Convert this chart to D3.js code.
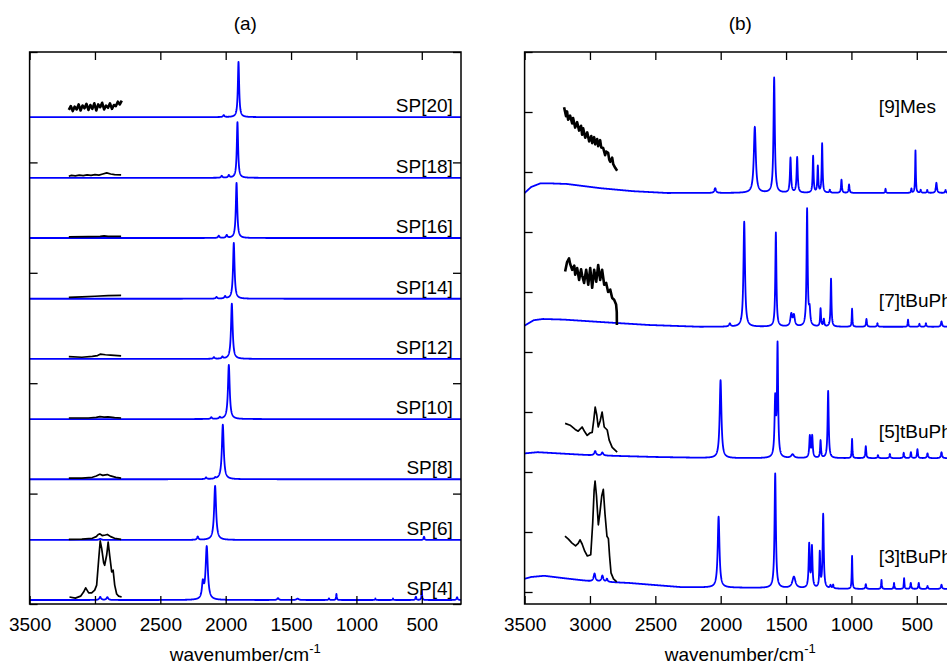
<!DOCTYPE html>
<html>
<head>
<meta charset="utf-8">
<script src="https://cdn.jsdelivr.net/npm/d3@7"></script>
<style>
  body { margin: 0; background: #fff; }
  svg { display: block; font-family: "Liberation Sans", Arial, Helvetica, sans-serif; }
</style>
</head>
<body>
<div id="chart"></div>
<script>
// ---- data ----
let wnTicks = [3500, 3000, 2500, 2000, 1500, 1000, 500];

// panel (a): SP[4] ... SP[20]
let namesA = ["SP[4]", "SP[6]", "SP[8]", "SP[10]", "SP[12]", "SP[14]", "SP[16]", "SP[18]", "SP[20]"];
let offsetsA = [0.72, 11.6, 22.6, 33.5, 44.4, 55.3, 66.3, 77.2, 88.2];
// peaks: [wavenumber, height, fwhm]
let peaksA = [
  [[2145, 9.6, 20], [2175, 2.8, 16], [1600, 0.35, 14], [1450, 0.25, 20], [1210, 0.3, 8], [1153, 1.1, 6],
   [855, 0.3, 6], [720, 0.3, 6], [545, 0.6, 8], [500, 1.8, 6], [230, 0.5, 10], [2960, 0.55, 16], [2905, 0.5, 16]],
  [[2081, 9.8, 18], [2214, 0.6, 12], [483, 0.6, 8], [2960, 0.2, 20]],
  [[2022, 9.9, 17], [2150, 0.3, 12], [2080, 0.2, 10]],
  [[1976, 9.8, 16], [2110, 0.3, 12], [2045, 0.3, 12]],
  [[1953, 10, 15], [2090, 0.3, 12], [2025, 0.35, 12]],
  [[1938, 10.1, 14], [2070, 0.3, 12], [2005, 0.4, 12]],
  [[1917, 10, 13], [2053, 0.4, 12], [1992, 0.5, 12]],
  [[1910, 10.1, 12], [2030, 0.35, 12], [1976, 0.45, 12]],
  [[1902, 10, 12], [2015, 0.35, 12]]
];
// magnified C-H region (black), height above the baseline
let chA = [
  [[3195, 0.55], [3150, 0.35], [3110, 0.7], [3087, 1.45], [3071, 2.2], [3048, 1.3], [3025, 1.3], [3002, 1.8],
   [2987, 2.7], [2972, 7.2], [2960, 10.7], [2949, 9.4], [2933, 6.7], [2926, 6.3], [2910, 8.2], [2899, 10.5],
   [2887, 8.0], [2872, 5.1], [2861, 5.4], [2849, 2.7], [2834, 1.1], [2819, 0.7], [2796, 0.55]],
  [[3200, 0.1], [3100, 0.15], [3020, 0.3], [2990, 0.6], [2975, 1.0], [2962, 1.1], [2945, 0.8], [2920, 0.9],
   [2905, 1.0], [2880, 0.6], [2850, 0.3], [2800, 0.1]],
  [[3200, 0.2], [3100, 0.2], [3020, 0.35], [2990, 0.6], [2962, 0.9], [2940, 0.7], [2920, 0.8], [2905, 0.85],
   [2880, 0.6], [2840, 0.35], [2800, 0.2]],
  [[3200, 0.2], [3050, 0.2], [2990, 0.3], [2962, 0.45], [2930, 0.35], [2900, 0.4], [2850, 0.25], [2800, 0.2]],
  [[3200, 0.4], [3100, 0.3], [3020, 0.45], [2980, 0.6], [2960, 0.85], [2920, 0.75], [2880, 0.7], [2800, 0.55]],
  [[3200, 0.25], [3100, 0.35], [3000, 0.45], [2900, 0.55], [2800, 0.6]],
  [[3200, 0.2], [3050, 0.25], [2960, 0.3], [2930, 0.4], [2900, 0.3], [2800, 0.3]],
  [[3200, 0.3], [3180, 0.45], [3150, 0.35], [3120, 0.5], [3090, 0.4], [3060, 0.55], [3030, 0.45], [3000, 0.6],
   [2970, 0.5], [2940, 0.7], [2910, 0.9], [2880, 0.7], [2850, 0.6], [2800, 0.55]],
  [[3200, 1.3], [3185, 2.0], [3170, 1.1], [3155, 1.9], [3140, 1.4], [3125, 2.3], [3110, 1.2], [3095, 2.1],
   [3080, 1.6], [3065, 2.4], [3050, 1.3], [3035, 2.2], [3020, 1.5], [3005, 2.5], [2990, 1.2], [2975, 2.3],
   [2960, 1.8], [2945, 2.6], [2930, 1.4], [2915, 2.1], [2900, 1.7], [2885, 2.5], [2870, 1.5], [2855, 2.2],
   [2840, 2.0], [2825, 2.8], [2810, 2.3], [2795, 3.0]]
];

// panel (b)
let namesB = ["[3]tBuPh", "[5]tBuPh", "[7]tBuPh", "[9]Mes"];
let offsetsB = [0.5, 22.3, 44.2, 66.5];
let baseB = [
  [[3500, 1.7], [3450, 2.0], [3350, 2.2], [3200, 1.8], [3000, 1.3], [2700, 1.0], [2300, 0.3], [1800, 0.2], [1000, 0], [200, 0]],
  [[3500, 0.8], [3400, 1.0], [3000, 0.5], [2500, 0.2], [2000, 0], [200, 0]],
  [[3500, 0.2], [3430, 1.1], [3360, 1.3], [3200, 1.2], [2920, 0.8], [2550, 0.3], [2160, 0], [200, 0]],
  [[3500, 0], [3450, 1.0], [3380, 1.6], [3300, 1.6], [3175, 1.5], [2920, 0.8], [2670, 0.3], [2410, 0], [200, 0]]
];
let peaksB = [
  [[2016, 11.8, 16], [1583, 19.1, 12], [1440, 1.9, 28], [1323, 7.2, 10], [1302, 6.8, 10], [1242, 5.8, 8],
   [1216, 12.3, 10], [1160, 0.5, 10], [1140, 0.6, 8], [995, 5.5, 6], [890, 0.8, 8], [770, 1.5, 6], [674, 1, 6],
   [597, 1.8, 6], [546, 1, 8], [485, 1, 8], [418, 0.5, 8], [311, 0.7, 10], [2965, 1.3, 16], [2905, 1.0, 16],
   [2870, 0.5, 12]],
  [[2001, 13, 16], [1583, 9.5, 12], [1565, 18.5, 10], [1450, 0.6, 25], [1318, 3.6, 10], [1300, 3.6, 10],
   [1236, 2.9, 8], [1178, 11.2, 10], [995, 3.2, 6], [890, 2, 8], [797, 0.5, 8], [706, 0.7, 8], [600, 0.9, 8],
   [545, 1.0, 8], [495, 1.5, 8], [418, 0.8, 10], [311, 1, 10], [2960, 0.7, 16], [2905, 0.5, 16]],
  [[1930, 0.5, 14], [1820, 17.5, 14], [1578, 15.7, 10], [1460, 2.0, 16], [1440, 1.8, 16], [1339, 19.5, 10],
   [1320, 2.5, 12], [1236, 3, 8], [1211, 1.2, 8], [1156, 8, 8], [995, 3, 6], [885, 1.3, 8], [801, 0.6, 8],
   [567, 1.2, 6], [480, 0.5, 8], [430, 0.6, 8], [311, 0.9, 10]],
  [[2042, 0.8, 14], [1739, 11, 18], [1591, 19.2, 12], [1466, 5.8, 10], [1415, 5.9, 10], [1293, 6.1, 8],
   [1257, 4.4, 8], [1224, 8.2, 8], [1165, 0.5, 8], [1076, 2.2, 8], [1018, 1.4, 8], [739, 0.7, 6], [541, 0.7, 6],
   [510, 7.1, 6], [470, 0.5, 8], [420, 0.5, 8], [350, 1.7, 10], [280, 0.5, 8]]
];
let chB = [
  [[3191, 8.8], [3165, 8.3], [3139, 7.7], [3110, 7.2], [3090, 7.6], [3076, 8.2], [3060, 7.5], [3040, 6.3],
   [3020, 5.5], [2994, 5.7], [2979, 11], [2968, 16.5], [2961, 18], [2950, 15.5], [2936, 10.7], [2925, 12.5],
   [2910, 15.5], [2898, 16.6], [2885, 12.5], [2870, 8.8], [2859, 8.4], [2850, 5.5], [2839, 2.7], [2820, 1.7], [2795, 1.2]],
  [[3190, 5.8], [3152, 5.5], [3113, 4.8], [3090, 4.5], [3060, 5.2], [3040, 4.4], [3021, 3.8], [3000, 4.2],
   [2983, 4.3], [2970, 6.5], [2960, 8.5], [2948, 7.2], [2937, 5.2], [2922, 6.2], [2907, 7.7], [2891, 5.2],
   [2868, 4.7], [2853, 3], [2830, 1.8], [2792, 1]],
  [[3190, 9.2], [3175, 10.8], [3160, 11.4], [3152, 10.5], [3136, 9.5], [3120, 10.2], [3113, 8.7], [3098, 9.8],
   [3083, 7.8], [3068, 9.6], [3060, 8.6], [3045, 7.3], [3029, 9.5], [3013, 7], [2998, 9.8], [2983, 6.5],
   [2968, 9.5], [2952, 7.5], [2937, 10.3], [2922, 7.8], [2907, 9.5], [2891, 7], [2876, 7.3], [2861, 5.8],
   [2845, 6.2], [2830, 4.8], [2815, 4.5], [2800, 3.7], [2795, 2.5], [2794, 0.3]],
  [[3198, 14.3], [3183, 12.8], [3175, 13.6], [3167, 12.2], [3152, 12.9], [3136, 11.6], [3129, 12.5], [3113, 10.9],
   [3098, 11.8], [3083, 10.4], [3068, 11.2], [3060, 9.7], [3052, 10.8], [3036, 9.2], [3021, 10.1], [3006, 8.6],
   [2990, 9.5], [2983, 8.3], [2968, 9.3], [2960, 8.1], [2945, 9], [2937, 7.8], [2922, 8.8], [2914, 7.6],
   [2899, 7.5], [2884, 6.3], [2876, 6.9], [2861, 6.7], [2853, 5.6], [2845, 5.2], [2830, 5.9], [2822, 4.8],
   [2807, 4.2], [2792, 3.7]]
];

// label placement (kept apart from the values)
let labelPosA = {wn: 262, dy: 0.9, anchor: "end"};
let labelPosB = {wn: 790, y: [4.8, 25.7, 47.5, 79.8], anchor: "start"};
// the noisiest black traces are drawn heavier, as in the figure
let thickA = ["SP[20]"];
let thickB = ["[9]Mes", "[7]tBuPh"];

let colorBlue = "#0000ff";
let width = 947,
    height = 665,
    plotTop = 52,
    plotBottom = 604;

let svg = d3.select("#chart")
    .append("svg")
    .attr("width", width)
    .attr("height", height);

let grid = d3.range(3500, 199.5, -1);

function blueTrace(peaks, offset, base) {
  let bl = base
      ? d3.scaleLinear().domain(base.map(d => d[0])).range(base.map(d => d[1]))
      : () => 0;
  return grid.map(w => [w, offset + bl(w) + d3.sum(peaks, p => {
    let g = p[2] / 2;
    return p[1] * g * g / ((w - p[0]) * (w - p[0]) + g * g);
  })]);
}

function drawPanel(id, title, x0, x1, yDomain, yTicks, blue, black, labels) {
  let x = d3.scaleLinear().domain([3500, 200]).range([x0, x1]);
  let y = d3.scaleLinear().domain(yDomain).range([plotBottom, plotTop]);
  let g = svg.append("g");

  g.append("clipPath").attr("id", "clip" + id)
    .append("rect")
    .attr("x", x0).attr("y", plotTop)
    .attr("width", x1 - x0).attr("height", plotBottom - plotTop);

  let line = d3.line().x(d => x(d[0])).y(d => y(d[1]));
  let plot = g.append("g").attr("clip-path", "url(#clip" + id + ")");

  plot.selectAll(".blue")
    .data(blue)
    .enter()
    .append("path")
    .attr("class", "blue")
    .attr("d", line)
    .style("fill", "none")
    .style("stroke", colorBlue)
    .style("stroke-width", 1.8)
    .style("stroke-linejoin", "round");

  plot.selectAll(".black")
    .data(black)
    .enter()
    .append("path")
    .attr("class", "black")
    .attr("d", line)
    .style("fill", "none")
    .style("stroke", "#000")
    .style("stroke-width", d => d.thick ? 2.6 : 1.7)
    .style("stroke-linejoin", "round");

  // axes: ticks point inward, no numbers except the bottom
  let tidy = sel => {
    sel.select(".domain").remove();
    sel.selectAll(".tick line").style("stroke-width", 1.3);
  };
  g.append("g")
    .attr("transform", "translate(0," + plotBottom + ")")
    .call(d3.axisBottom(x).tickValues(wnTicks).tickSize(-8).tickPadding(14).tickFormat(d3.format("d")))
    .call(tidy)
    .selectAll("text")
    .style("font-size", "19px")
    .style("font-family", "'Liberation Sans', Arial, sans-serif")
    .style("fill", "#000");
  g.append("g")
    .attr("transform", "translate(0," + plotTop + ")")
    .call(d3.axisTop(x).tickValues(wnTicks).tickSize(-8).tickFormat(""))
    .call(tidy);
  g.append("g")
    .attr("transform", "translate(" + x0 + ",0)")
    .call(d3.axisLeft(y).tickValues(yTicks).tickSize(-8).tickFormat(""))
    .call(tidy);
  g.append("g")
    .attr("transform", "translate(" + x1 + ",0)")
    .call(d3.axisRight(y).tickValues(yTicks).tickSize(-8).tickFormat(""))
    .call(tidy);

  g.append("rect")
    .attr("x", x0).attr("y", plotTop)
    .attr("width", x1 - x0).attr("height", plotBottom - plotTop)
    .style("fill", "none")
    .style("stroke", "#000")
    .style("stroke-width", 1.5);

  // spectrum names
  g.selectAll(".name")
    .data(labels)
    .enter()
    .append("text")
    .attr("class", "name")
    .attr("x", d => x(d.wn))
    .attr("y", d => y(d.y))
    .attr("text-anchor", d => d.anchor)
    .style("font-size", "19px")
    .text(d => d.text);

  g.append("text")
    .attr("x", (x0 + x1) / 2)
    .attr("y", 30)
    .attr("text-anchor", "middle")
    .style("font-size", "19px")
    .text(title);

  let xl = g.append("text")
    .attr("x", (x0 + x1) / 2)
    .attr("y", 661)
    .attr("text-anchor", "middle")
    .style("font-size", "19px");
  xl.append("tspan").text("wavenumber/cm");
  xl.append("tspan").attr("dy", -8).style("font-size", "13px").text("-1");
}

// panel (a)
let blueA = namesA.map((n, i) => blueTrace(peaksA[i], offsetsA[i]));
let blackA = chA.map((c, i) => {
  let pts = c.map(d => [d[0], offsetsA[i] + d[1]]);
  pts.thick = thickA.includes(namesA[i]);
  return pts;
});
let labelsA = namesA.map((n, i) => ({text: n, wn: labelPosA.wn, y: offsetsA[i] + labelPosA.dy, anchor: labelPosA.anchor}));
drawPanel("a", "(a)", 29.6, 461, [0, 100], d3.range(0, 101, 20), blueA, blackA, labelsA);

// panel (b)
let blueB = namesB.map((n, i) => blueTrace(peaksB[i], offsetsB[i], baseB[i]));
let blackB = chB.map((c, i) => {
  let pts = c.map(d => [d[0], offsetsB[i] + d[1]]);
  pts.thick = thickB.includes(namesB[i]);
  return pts;
});
let labelsB = namesB.map((n, i) => ({text: n, wn: labelPosB.wn, y: labelPosB.y[i], anchor: labelPosB.anchor}));
drawPanel("b", "(b)", 524.6, 956, [-2, 90], d3.range(0, 91, 10), blueB, blackB, labelsB);
</script>
</body>
</html>
